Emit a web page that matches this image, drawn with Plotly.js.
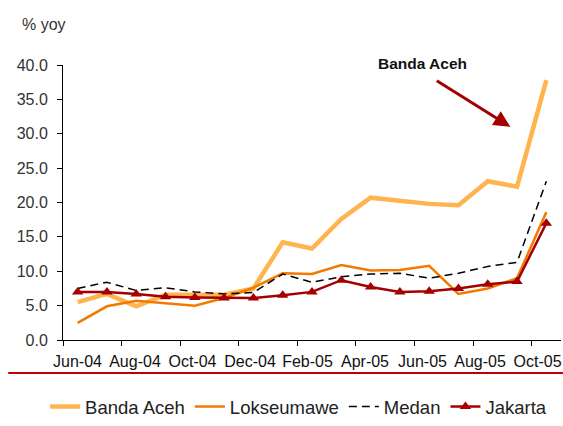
<!DOCTYPE html>
<html>
<head>
<meta charset="utf-8">
<script src="https://cdn.plot.ly/plotly-3.0.1.min.js"></script>
<style>html,body{margin:0;padding:0;background:#fff;}#chart{width:563px;height:426px;}</style>
</head>
<body>
<div id="chart"></div>
<script>
const months = ['Jun-04','Jul-04','Aug-04','Sep-04','Oct-04','Nov-04','Dec-04','Jan-05','Feb-05','Mar-05','Apr-05','May-05','Jun-05','Jul-05','Aug-05','Sep-05','Oct-05'];
const bandaAceh = [5.5, 6.7, 4.9, 6.6, 6.6, 6.6, 7.5, 14.2, 13.3, 17.6, 20.7, 20.3, 19.8, 19.6, 23.1, 22.3, 37.8];
const lokseumawe = [2.5, 4.9, 5.7, 5.3, 5.0, 6.1, 7.6, 9.7, 9.6, 10.9, 10.1, 10.2, 10.8, 6.7, 7.5, 9.0, 18.6];
const medan = [7.5, 8.4, 7.2, 7.6, 7.0, 6.7, 6.9, 9.6, 8.4, 9.2, 9.6, 9.7, 9.0, 9.7, 10.7, 11.3, 23.1];
const jakarta = [7.0, 7.0, 6.7, 6.3, 6.2, 6.1, 6.1, 6.5, 7.0, 8.7, 7.7, 7.0, 7.1, 7.5, 8.1, 8.5, 17.0];

const traces = [
  {x: months, y: bandaAceh, name: 'Banda Aceh', type: 'scatter', mode: 'lines',
   line: {color: '#ffb44f', width: 4.5}},
  {x: months, y: lokseumawe, name: 'Lokseumawe', type: 'scatter', mode: 'lines',
   line: {color: '#f27a00', width: 2.5}},
  {x: months, y: medan, name: 'Medan', type: 'scatter', mode: 'lines',
   line: {color: '#000000', width: 1.5, dash: '8px,5px'}},
  {x: months, y: jakarta, name: 'Jakarta', type: 'scatter', mode: 'lines+markers',
   line: {color: '#a50000', width: 2.5},
   marker: {symbol: 'triangle-up', size: 10, color: '#a50000'}},
  // carrier for the month labels axis (draws nothing)
  {x: months, y: jakarta, xaxis: 'x2', type: 'scatter', mode: 'none', showlegend: false, hoverinfo: 'skip'}
];

const layout = {
  width: 563, height: 426,
  margin: {l: 63, r: 2, t: 65, b: 86, autoexpand: false},
  paper_bgcolor: '#ffffff', plot_bgcolor: '#ffffff',
  font: {family: 'Liberation Sans, Arial, sans-serif', color: '#222'},
  showlegend: true,
  legend: {orientation: 'h', x: -0.036, xanchor: 'left', y: -0.3127, yanchor: 'bottom',
    font: {size: 18.5, color: '#222'}, itemgap: 17, traceorder: 'normal'},
  xaxis: {type: 'category', range: [-0.5, 16.5], dtick: 2, tickson: 'boundaries', tickangle: 0,
    showticklabels: false,
    ticks: 'outside', ticklen: 5, tickcolor: '#000', showline: true, linecolor: '#000', linewidth: 1,
    showgrid: false, zeroline: false, fixedrange: true},
  xaxis2: {type: 'category', overlaying: 'x', side: 'bottom', anchor: 'y',
    range: [-0.504, 16.817], dtick: 2, tickangle: 0,
    ticks: 'outside', ticklen: 5, tickcolor: 'rgba(0,0,0,0)', showline: false,
    showgrid: false, zeroline: false, tickfont: {size: 16, color: '#111'}, ticklabelstandoff: 2, fixedrange: true},
  yaxis: {range: [0, 40], dtick: 5, tickformat: '.1f', ticks: 'outside', ticklen: 5, tickcolor: '#000',
    showline: true, linecolor: '#000', linewidth: 1, showgrid: false, zeroline: false,
    tickfont: {size: 16, color: '#333'}, ticklabelstandoff: 6, fixedrange: true},
  shapes: [
    {type: 'line', xref: 'paper', yref: 'paper', x0: -0.11, x1: 1.004, y0: -0.12, y1: -0.12,
     line: {color: '#c00000', width: 2}}
  ],
  annotations: [
    {text: '% yoy', xref: 'paper', yref: 'paper', x: -0.086, y: 1.147, xanchor: 'left', yanchor: 'middle',
     showarrow: false, font: {size: 16, color: '#333'}},
    {text: '<b>Banda Aceh</b>', xref: 'paper', yref: 'paper', x: 0.721, y: 1.007, xanchor: 'center', yanchor: 'middle',
     showarrow: false, font: {size: 15.5, color: '#111', family: 'Liberation Sans Narrow, Liberation Sans, Arial'}},
    {text: '', xref: 'x', yref: 'y', x: 14.77, y: 31.0, ax: -75, ay: -47, showarrow: true,
     arrowhead: 2, arrowsize: 1.1, arrowwidth: 3, arrowcolor: '#a50000', standoff: 0, startstandoff: 0}
  ]
};

Plotly.newPlot('chart', traces, layout, {displayModeBar: false, staticPlot: true});
</script>
</body>
</html>
